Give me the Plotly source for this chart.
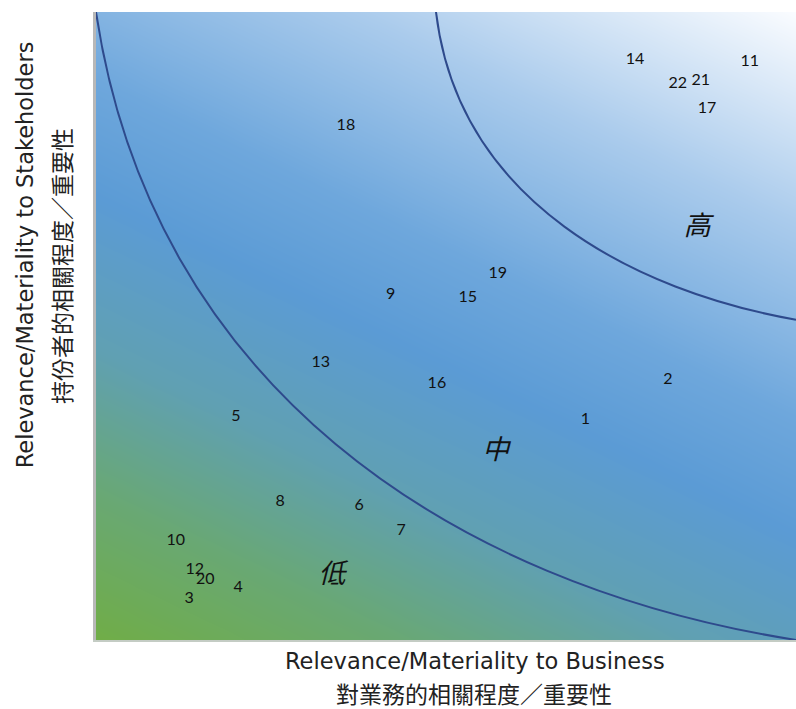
import numpy as np
import plotly.graph_objects as go

# ---- data (axis units 0-10) ----
labels = ["14", "11", "22", "21", "17", "18", "19", "9", "15", "13", "2", "16",
          "5", "1", "8", "6", "7", "10", "12", "20", "4", "3"]
x_vals = [7.70, 9.34, 8.31, 8.64, 8.73, 3.57, 5.74, 4.21, 5.31, 3.21, 8.17, 4.87,
          2.00, 6.99, 2.63, 3.76, 4.36, 1.14, 1.41, 1.56, 2.03, 1.33]
y_vals = [9.24, 9.20, 8.85, 8.90, 8.46, 8.18, 5.83, 5.49, 5.45, 4.41, 4.14, 4.08,
          3.55, 3.50, 2.20, 2.13, 1.74, 1.58, 1.11, 0.96, 0.83, 0.65]

zone_labels = ["高", "中", "低"]
zone_x = [8.59, 5.71, 3.37]
zone_y = [6.56, 2.99, 1.02]

# boundary curves: cubic Bezier (start, control 1, control 2, end)
low_curve_x = [0.0, 0.79, 5.0, 10.0]
low_curve_y = [10.0, 4.11, 0.88, 0.0]
high_curve_x = [4.857, 5.18, 7.71, 10.0]
high_curve_y = [10.0, 6.97, 5.55, 5.10]

x_title = ["Relevance/Materiality to Business", "對業務的相關程度／重要性"]
y_title = ["Relevance/Materiality to Stakeholders", "持份者的相關程度／重要性"]

# ---- gradient background ----
gx = np.linspace(0, 10, 60)
gy = np.linspace(0, 10, 60)
GX, GY = np.meshgrid(gx, gy)
gz = 0.35 * GX / 10 + 0.65 * GY / 10
bg_scale = [
    [0.0, "rgb(112,173,71)"],
    [0.15, "rgb(105,168,115)"],
    [0.30, "rgb(96,160,178)"],
    [0.46, "rgb(91,155,213)"],
    [0.58, "rgb(110,167,220)"],
    [0.78, "rgb(170,203,236)"],
    [1.0, "rgb(250,252,255)"],
]

fig = go.Figure()
fig.add_trace(go.Heatmap(x=gx, y=gy, z=gz, colorscale=bg_scale, zsmooth="best",
                         showscale=False, hoverinfo="skip", zmin=0, zmax=1))


def bezier_path(xs, ys):
    return "M {},{} C {},{} {},{} {},{}".format(xs[0], ys[0], xs[1], ys[1],
                                                 xs[2], ys[2], xs[3], ys[3])


curve_color = "#2E4A8C"
for cx, cy in [(low_curve_x, low_curve_y), (high_curve_x, high_curve_y)]:
    fig.add_shape(type="path", path=bezier_path(cx, cy), xref="x", yref="y",
                  line=dict(color=curve_color, width=2), layer="above")

fig.add_trace(go.Scatter(x=x_vals, y=y_vals, mode="text", text=labels,
                         textfont=dict(family="Lato, Open Sans, sans-serif", size=16, color="#111"),
                         showlegend=False))
fig.add_trace(go.Scatter(x=zone_x, y=zone_y, mode="text",
                         text=["<i>%s</i>" % s for s in zone_labels],
                         textfont=dict(family="Noto Sans CJK TC", size=27, color="#111"),
                         showlegend=False))

fig.update_layout(
    width=796, height=709,
    margin=dict(l=96, r=0, t=12, b=69),
    paper_bgcolor="white", plot_bgcolor="white",
    showlegend=False,
    xaxis=dict(range=[0, 10], showgrid=False, zeroline=False, showticklabels=False,
               ticks="", showline=True, linecolor="#c4ccc4", linewidth=2, mirror=False,
               fixedrange=True),
    yaxis=dict(range=[0, 10], showgrid=False, zeroline=False, showticklabels=False,
               ticks="", showline=True, linecolor="#b8b8b8", linewidth=3, mirror=False,
               fixedrange=True),
)

fig.add_annotation(text=x_title[0], xref="paper", yref="paper", x=0.541, y=-0.0334,
                   xanchor="center", yanchor="middle", showarrow=False,
                   font=dict(family="DejaVu Sans", size=22.5, color="#222"))
fig.add_annotation(text=x_title[1], xref="paper", yref="paper", x=0.540, y=-0.0845,
                   xanchor="center", yanchor="middle", showarrow=False,
                   font=dict(family="Noto Sans CJK TC", size=23, color="#222"))
fig.add_annotation(text=y_title[0], xref="paper", yref="paper", x=-0.101, y=0.613,
                   xanchor="center", yanchor="middle", textangle=-90, showarrow=False,
                   font=dict(family="DejaVu Sans", size=22.5, color="#222"))
fig.add_annotation(text=y_title[1], xref="paper", yref="paper", x=-0.051, y=0.596,
                   xanchor="center", yanchor="middle", textangle=-90, showarrow=False,
                   font=dict(family="Noto Sans CJK TC", size=23, color="#222"))

fig.write_html("out.html")
